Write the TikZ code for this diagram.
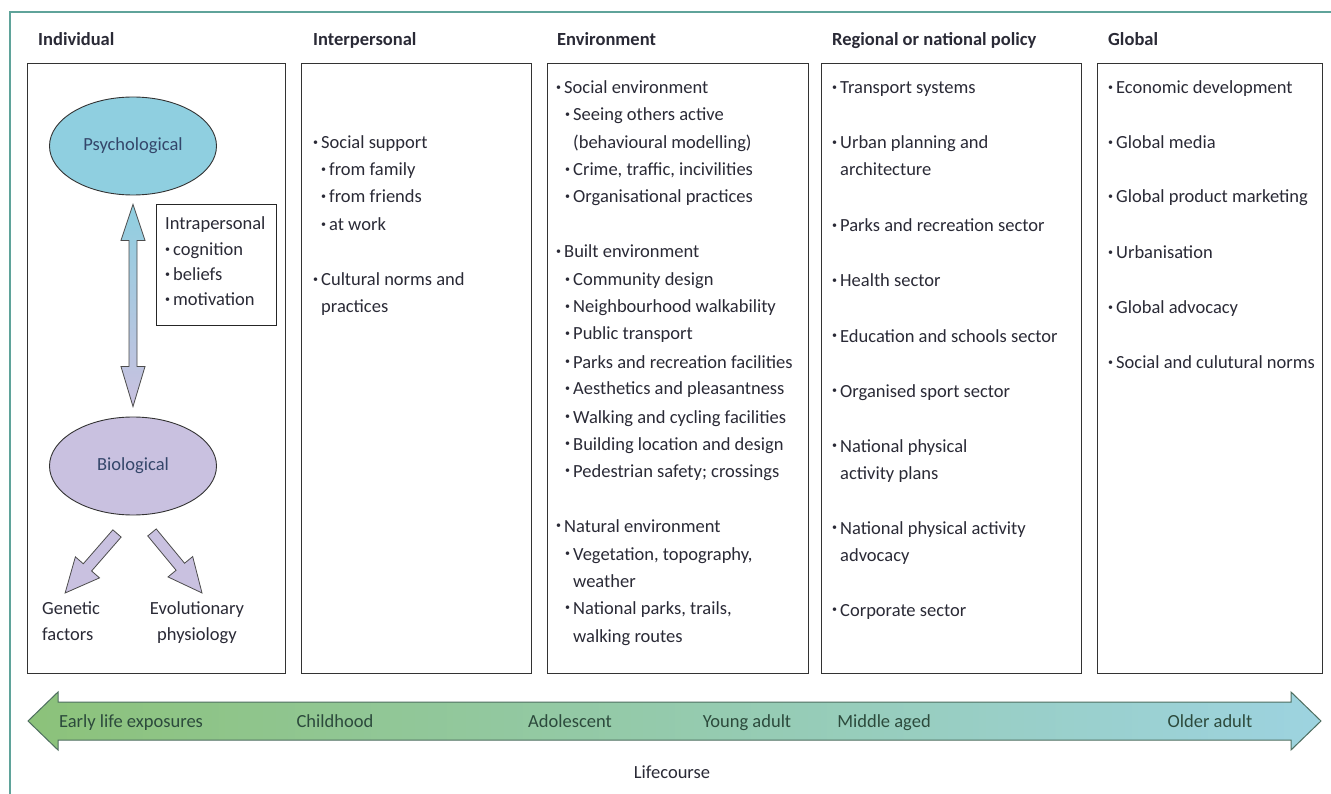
\documentclass[tikz,border=0pt]{standalone}
\usepackage{fontspec}
\setmainfont{Carlito}
\usetikzlibrary{shapes.geometric,calc}
\definecolor{framec}{HTML}{5FA39A}
\definecolor{txt}{HTML}{2A2A36}
\definecolor{psyb}{HTML}{8FCFE0}
\definecolor{biol}{HTML}{C9C1E0}
\definecolor{agreen}{HTML}{8CC27A}
\definecolor{amid}{HTML}{94CDAA}
\definecolor{ablue}{HTML}{9DD3E0}
\definecolor{aline}{HTML}{4E6E60}
\definecolor{atxt}{HTML}{2C4A3C}
\definecolor{etxt}{HTML}{34466A}
\newcommand\bul{\raisebox{0.18em}{\fontsize{10}{10}\selectfont\textbullet}\hspace{3pt}}
\tikzset{
  hdr/.style={anchor=base west, font=\fontsize{18.5}{22}\selectfont\bfseries, text=txt, inner sep=0pt},
  itm/.style={anchor=base west, font=\fontsize{18.5}{22}\selectfont, text=txt, inner sep=0pt},
  panel/.style={draw=black!80, line width=1.1pt, anchor=north west, inner sep=0pt},
  oval/.style={ellipse, draw=black!80, line width=0.9pt, minimum width=167pt, minimum height=98pt, font=\fontsize{18.5}{22}\selectfont, text=etxt},
  atext/.style={anchor=base, font=\fontsize{18.5}{22}\selectfont, text=atxt, inner sep=0pt},
  fatarrow/.style={draw=black!70, line width=0.8pt, fill=biol}
}
\begin{document}
\begin{tikzpicture}[x=1pt,y=-1pt]
\useasboundingbox (0,0) rectangle (1331,794);
\fill[white] (0,0) rectangle (1331,794);
\draw[framec, line width=2pt] (10,794) -- (10,12) -- (1331,12);

% headers
\node[hdr] (hInd) at (38,46) {Individual};
\node[hdr] (hInt) at (313,46) {Interpersonal};
\node[hdr] (hEnv) at (557,46) {Environment};
\node[hdr] (hReg) at (832,46) {Regional or national policy};
\node[hdr] (hGlo) at (1108,46) {Global};

% panels
\node[panel, minimum width=258pt, minimum height=610pt] (bInd) at (27,63) {};
\node[panel, minimum width=230pt, minimum height=610pt] (bInt) at (301,63) {};
\node[panel, minimum width=261pt, minimum height=610pt] (bEnv) at (547,63) {};
\node[panel, minimum width=260pt, minimum height=610pt] (bReg) at (821,63) {};
\node[panel, minimum width=225pt, minimum height=610pt] (bGlo) at (1097,63) {};

% individual
\node[oval, fill=psyb] (psy) at (133,146) {Psychological};
\node[oval, fill=biol] (bio) at (133,466) {Biological};
\node[draw=black!85, line width=1pt, anchor=north west, minimum width=120pt, minimum height=121pt, inner sep=0pt] (intra) at (156,204) {};
\node[itm] (i1) at (165,230) {Intrapersonal};
\node[itm] (i2) at (165,256) {\bul cognition};
\node[itm] (i3) at (165,281) {\bul beliefs};
\node[itm] (i4) at (165,306) {\bul motivation};

\coordinate (T1) at ($(psy.south)+(0,9)$);
\coordinate (T2) at ($(bio.north)+(0,-10)$);
\shade[top color=psyb, bottom color=biol, draw=black!70, line width=0.8pt]
  (T1) -- ++(12,36) -- ++(-8,0) -- ($(T2)+(4,-40)$) -- ++(8,0) -- (T2)
  -- ++(-12,-40) -- ++(8,0) -- ($(T1)+(-4,36)$) -- ++(-8,0) -- cycle;

\node[itm] (gen1) at (42,614) {Genetic};
\node[itm] (gen2) at (42,640) {factors};
\node[itm, anchor=base] (evo1) at (197,614) {Evolutionary};
\node[itm, anchor=base] (evo2) at (197,640) {physiology};

\coordinate (A1) at ($(bio.south)+(-16,18)$);
\coordinate (B1) at ($(gen1.north)+(-6,-8)$);
\coordinate (A2) at ($(bio.south)+(19,17)$);
\coordinate (B2) at ($(evo1.north)+(5,-8)$);
\coordinate (H1) at ($(B1)!34pt!(A1)$);
\coordinate (H2) at ($(B2)!34pt!(A2)$);
\draw[fatarrow] ($(A1)!5.5pt!90:(B1)$) -- ($(H1)!5.5pt!90:(B1)$) -- ($(H1)!16pt!90:(B1)$) -- (B1)
  -- ($(H1)!16pt!-90:(B1)$) -- ($(H1)!5.5pt!-90:(B1)$) -- ($(A1)!5.5pt!-90:(B1)$) -- cycle;
\draw[fatarrow] ($(A2)!5.5pt!90:(B2)$) -- ($(H2)!5.5pt!90:(B2)$) -- ($(H2)!16pt!90:(B2)$) -- (B2)
  -- ($(H2)!16pt!-90:(B2)$) -- ($(H2)!5.5pt!-90:(B2)$) -- ($(A2)!5.5pt!-90:(B2)$) -- cycle;

% interpersonal
\node[itm] (p1) at (313,149) {\bul Social support};
\node[itm] (p2) at (321,176) {\bul from family};
\node[itm] (p3) at (321,203) {\bul from friends};
\node[itm] (p4) at (321,231) {\bul at work};
\node[itm] (p5) at (313,286) {\bul Cultural norms and};
\node[itm] (p6) at (321,313) {practices};

% environment
\node[itm] (e1) at (556,94) {\bul Social environment};
\node[itm] (e2) at (565,121) {\bul Seeing others active};
\node[itm] (e3) at (573,149) {(behavioural modelling)};
\node[itm] (e4) at (565,176) {\bul Crime, traffic, incivilities};
\node[itm] (e5) at (565,203) {\bul Organisational practices};
\node[itm] (e6) at (556,258) {\bul Built environment};
\node[itm] (e7) at (565,286) {\bul Community design};
\node[itm] (e8) at (565,313) {\bul Neighbourhood walkability};
\node[itm] (e9) at (565,340) {\bul Public transport};
\node[itm] (e10) at (565,368) {\bul Parks and recreation facilities};
\node[itm] (e11) at (565,395) {\bul Aesthetics and pleasantness};
\node[itm] (e12) at (565,423) {\bul Walking and cycling facilities};
\node[itm] (e13) at (565,450) {\bul Building location and design};
\node[itm] (e14) at (565,477) {\bul Pedestrian safety; crossings};
\node[itm] (e15) at (556,532) {\bul Natural environment};
\node[itm] (e16) at (565,560) {\bul Vegetation, topography,};
\node[itm] (e17) at (573,587) {weather};
\node[itm] (e18) at (565,614) {\bul National parks, trails,};
\node[itm] (e19) at (573,642) {walking routes};

% regional
\node[itm] (r1) at (832,94) {\bul Transport systems};
\node[itm] (r2) at (832,149) {\bul Urban planning and};
\node[itm] (r3) at (840,176) {architecture};
\node[itm] (r4) at (832,232) {\bul Parks and recreation sector};
\node[itm] (r5) at (832,287) {\bul Health sector};
\node[itm] (r6) at (832,342) {\bul Education and schools sector};
\node[itm] (r7) at (832,397) {\bul Organised sport sector};
\node[itm] (r8) at (832,452) {\bul National physical};
\node[itm] (r9) at (840,479) {activity plans};
\node[itm] (r10) at (832,534) {\bul National physical activity};
\node[itm] (r11) at (840,561) {advocacy};
\node[itm] (r12) at (832,616) {\bul Corporate sector};

% global
\node[itm] (g1) at (1108,94) {\bul Economic development};
\node[itm] (g2) at (1108,149) {\bul Global media};
\node[itm] (g3) at (1108,203) {\bul Global product marketing};
\node[itm] (g4) at (1108,259) {\bul Urbanisation};
\node[itm] (g5) at (1108,314) {\bul Global advocacy};
\node[itm] (g6) at (1108,369) {\bul Social and culutural norms};

% lifecourse arrow
\shade[left color=agreen, middle color=amid, right color=ablue, draw=aline, line width=1pt]
  (28,721) -- (58,692) -- (58,702) -- (1291,702) -- (1291,692) -- (1321,721)
  -- (1291,750) -- (1291,740) -- (58,740) -- (58,750) -- cycle;
\node[atext] (l1) at (131,727) {Early life exposures};
\node[atext] (l2) at (335,727) {Childhood};
\node[atext] (l3) at (570,727) {Adolescent};
\node[atext] (l4) at (747,727) {Young adult};
\node[atext] (l5) at (884,727) {Middle aged};
\node[atext] (l6) at (1210,727) {Older adult};
\node[itm, anchor=base] (lc) at (672,778) {Lifecourse};
\end{tikzpicture}
\end{document}
